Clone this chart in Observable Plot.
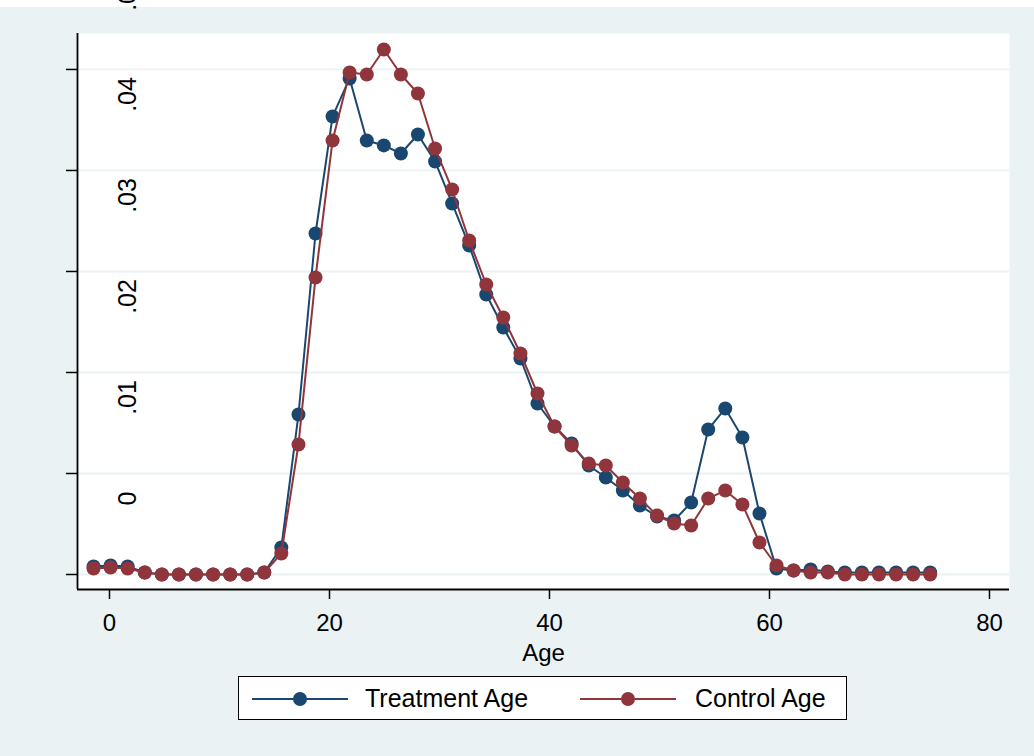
<!DOCTYPE html>
<html>
<head>
<meta charset="utf-8">
<script src="https://cdn.jsdelivr.net/npm/d3@7"></script>
<script src="https://cdn.jsdelivr.net/npm/@observablehq/plot@0.6"></script>
<style>
  html, body { margin: 0; padding: 0; background: #EAF2F3; }
  body { width: 1034px; height: 756px; position: relative; overflow: hidden; font-family: "Liberation Sans", Arial, sans-serif; }
  #topband { position: absolute; left: 0; top: 0; width: 1034px; height: 7px; background: white; }
  #chart { position: absolute; left: 0; top: 0; }
  #legend { position: absolute; left: 238px; top: 676px; width: 607px; height: 42px; background: white; border: 1.5px solid black; }
  #legend .lab { position: absolute; top: 6px; font-size: 25px; line-height: 30px; color: black; white-space: nowrap; }
</style>
</head>
<body>
<div id="topband"></div>
<div id="chart"></div>
<div id="legend"></div>
<script>
// Age grid (x positions of the kernel density points)
const ages = [-1.45, 0.10, 1.65, 3.21, 4.76, 6.31, 7.86, 9.42, 10.97, 12.52,
  14.07, 15.62, 17.18, 18.73, 20.28, 21.83, 23.39, 24.94, 26.49, 28.04,
  29.60, 31.15, 32.70, 34.25, 35.80, 37.36, 38.91, 40.46, 42.01, 43.57,
  45.12, 46.67, 48.22, 49.78, 51.33, 52.88, 54.43, 55.98, 57.54, 59.09,
  60.64, 62.19, 63.74, 65.30, 66.85, 68.40, 69.95, 71.51, 73.06, 74.61];

const treatmentAge = [0.00079, 0.00089, 0.00079, 0.0002, 0, 0, 0, 0, 0, 0,
  0.0002, 0.00267, 0.01584, 0.03376, 0.04535, 0.04911, 0.04297, 0.04248, 0.04168, 0.04356,
  0.04089, 0.03673, 0.03257, 0.02772, 0.02446, 0.02139, 0.01693, 0.01465, 0.01297, 0.01079,
  0.0096, 0.00832, 0.00683, 0.00574, 0.00535, 0.00713, 0.01436, 0.01644, 0.01356, 0.00604,
  0.00059, 0.0004, 0.0005, 0.0003, 0.0002, 0.0002, 0.0002, 0.0002, 0.0002, 0.0002];

const controlAge = [0.00059, 0.00069, 0.00059, 0.0002, 0, 0, 0, 0, 0, 0,
  0.0002, 0.00208, 0.01287, 0.02941, 0.04297, 0.0497, 0.0495, 0.05198, 0.0495, 0.04762,
  0.04218, 0.03812, 0.03307, 0.02871, 0.02545, 0.02188, 0.01792, 0.01465, 0.01277, 0.01099,
  0.01079, 0.00911, 0.00752, 0.00584, 0.00505, 0.00485, 0.00752, 0.00832, 0.00693, 0.00317,
  0.00089, 0.0004, 0.0002, 0.0002, 0, 0, 0, 0, 0, 0];

const seriesNames = ["Treatment Age", "Control Age"];
const seriesColors = ["#1A476F", "#90353B"];

const xTicks = [0, 20, 40, 60, 80];
const yTicks = [0, 0.01, 0.02, 0.03, 0.04, 0.05];
const yTickLabels = ["0", ".01", ".02", ".03", ".04", ".05"];
const xTitle = "Age";

const xDomain = [-2.909, 81.82];
const yDomain = [-0.001485, 0.05356];

const treatmentRows = ages.map((a, i) => ({age: a, density: treatmentAge[i], series: seriesNames[0]}));
const controlRows = ages.map((a, i) => ({age: a, density: controlAge[i], series: seriesNames[1]}));

const bgColor = "#EAF2F3";

const chart = Plot.plot({
  width: 1034,
  height: 670,
  marginLeft: 77,
  marginRight: 25,
  marginTop: 33,
  marginBottom: 81,
  style: {background: "transparent", fontFamily: "'Liberation Sans', Arial, sans-serif", fontSize: "24px", color: "black"},
  x: {domain: xDomain},
  y: {domain: yDomain},
  color: {domain: seriesNames, range: seriesColors},
  marks: [
    Plot.frame({fill: "white", stroke: "none"}),
    Plot.ruleY(yTicks, {stroke: bgColor, strokeWidth: 1.8}),
    Plot.axisY({ticks: yTicks, tickSize: 11, tickFormat: () => "", label: null, strokeWidth: 1.5}),
    Plot.text(yTicks, {y: d => d, text: (d, i) => yTickLabels[i], frameAnchor: "left", rotate: -90,
      dx: 58, dy: -76, lineAnchor: "bottom", textAnchor: "middle", fontSize: 25, fill: "black"}),
    Plot.axisX({ticks: xTicks, tickSize: 10, tickPadding: 14, fontSize: 24, label: null, strokeWidth: 1.5}),
    Plot.ruleX([xDomain[0]], {stroke: "black", strokeWidth: 1.8}),
    Plot.ruleY([yDomain[0]], {stroke: "black", strokeWidth: 1.8}),
    Plot.text([xTitle], {frameAnchor: "bottom", dy: 71, lineAnchor: "bottom", fontSize: 24, fill: "black"}),
    Plot.line(treatmentRows, {x: "age", y: "density", stroke: "series", strokeWidth: 2}),
    Plot.dot(treatmentRows, {x: "age", y: "density", fill: "series", r: 7}),
    Plot.line(controlRows, {x: "age", y: "density", stroke: "series", strokeWidth: 2}),
    Plot.dot(controlRows, {x: "age", y: "density", fill: "series", r: 7})
  ]
});
document.getElementById("chart").appendChild(chart);

// Legend
const legend = document.getElementById("legend");
const legendPos = [{line: 13, text: 126}, {line: 341, text: 456}];
seriesNames.forEach((name, i) => {
  const p = legendPos[i];
  const ns = "http://www.w3.org/2000/svg";
  const svg = document.createElementNS(ns, "svg");
  svg.setAttribute("width", 100);
  svg.setAttribute("height", 42);
  svg.style.position = "absolute";
  svg.style.left = p.line + "px";
  svg.style.top = "0px";
  const ln = document.createElementNS(ns, "line");
  ln.setAttribute("x1", 0); ln.setAttribute("x2", 96);
  ln.setAttribute("y1", 22); ln.setAttribute("y2", 22);
  ln.setAttribute("stroke", seriesColors[i]); ln.setAttribute("stroke-width", 2);
  svg.appendChild(ln);
  const c = document.createElementNS(ns, "circle");
  c.setAttribute("cx", 48); c.setAttribute("cy", 22); c.setAttribute("r", 7);
  c.setAttribute("fill", seriesColors[i]);
  svg.appendChild(c);
  legend.appendChild(svg);
  const t = document.createElement("div");
  t.className = "lab";
  t.style.left = p.text + "px";
  t.textContent = name;
  legend.appendChild(t);
});
</script>
</body>
</html>
